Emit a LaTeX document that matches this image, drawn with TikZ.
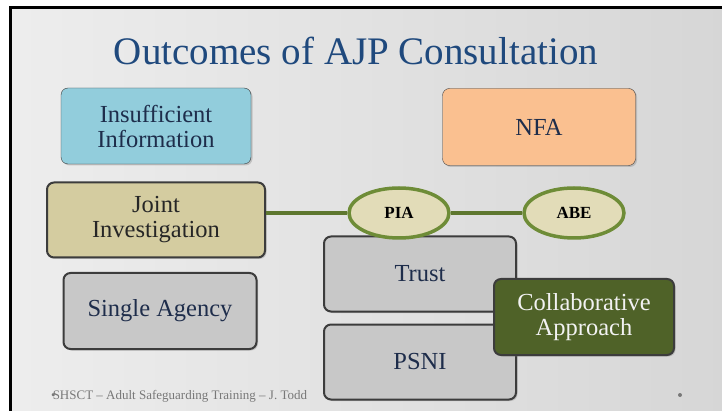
\documentclass[tikz,border=0pt]{standalone}
\usepackage{fontspec}
\setmainfont{Liberation Serif}
\usepackage{xcolor}
\usepackage{tikz}
\usetikzlibrary{positioning, shapes.geometric, shadows}
\definecolor{mytitle}{RGB}{31, 73, 125}
\definecolor{mynavy}{RGB}{30, 45, 75}
\definecolor{myblue}{RGB}{146, 205, 220}
\definecolor{myorange}{RGB}{250, 192, 144}
\definecolor{mytan}{RGB}{212, 204, 160}
\definecolor{mylighttan}{RGB}{226, 220, 184}
\definecolor{mygray}{RGB}{200, 200, 200}
\definecolor{myolive}{RGB}{110, 140, 55}
\definecolor{mygreen}{RGB}{79, 98, 40}
\definecolor{myedge}{RGB}{60, 60, 60}
\definecolor{myfoot}{RGB}{120, 120, 120}

\begin{document}
\begin{tikzpicture}[x=1pt, y=-1pt,
    outbox/.style={rectangle, rounded corners=7pt, draw=myedge, align=center, inner sep=0pt,
        text=mynavy, font=\fontsize{24.5}{25}\selectfont,
        drop shadow={opacity=0.35, shadow xshift=1.5pt, shadow yshift=-1.5pt}},
    heavybox/.style={outbox, line width=2pt},
    oval/.style={ellipse, draw=myolive, line width=3.5pt, fill=mylighttan, inner sep=0pt,
        minimum width=100pt, minimum height=50pt, font=\bfseries\fontsize{17}{19}\selectfont}]
    \useasboundingbox (0,0) rectangle (722,411);
    % background
    \fill[white] (0,0) rectangle (722,411);
    \shade[left color=gray!14, middle color=white, right color=gray!32] (10,8) rectangle (722,411);
    \draw[line width=3pt] (10,411) -- (10,8) -- (722,8);

    % title
    \node[text=mytitle, font=\fontsize{39}{44}\selectfont] (title) at (356,51) {Outcomes of AJP Consultation};

    % top row
    \node[outbox, fill=myblue, minimum width=190pt, minimum height=76pt] (ii) at (156,126) {Insufficient\\Information};
    \node[outbox, fill=myorange, minimum width=193pt, minimum height=77pt] (nfa) at (539,127) {NFA};

    % left column
    \node[heavybox, fill=mytan, text=black!85, minimum width=218pt, minimum height=75pt] (ji) at (156,220) {Joint\\Investigation};
    \node[heavybox, fill=mygray, minimum width=193pt, minimum height=76pt] (sa) at (160,311) {Single Agency};

    % right column
    \node[heavybox, fill=mygray, minimum width=192pt, minimum height=75pt] (tr) at (420,274) {Trust};
    \node[heavybox, fill=mygray, minimum width=192pt, minimum height=75pt] (ps) at (420,362) {PSNI};

    % PIA and ABE
    \node[oval] (pia) at (399,213) {PIA};
    \node[oval] (abe) at (574,213) {ABE};
    \draw[myolive!85!black, line width=4pt] (ji.east |- pia.west) -- (pia.west);
    \draw[myolive!85!black, line width=4pt] (pia.east) -- (abe.west);

    % collaborative
    \node[heavybox, fill=mygreen, text=white!95!black, minimum width=180pt, minimum height=76pt] (ca) at (584,317) {Collaborative\\Approach};

    % footer
    \node[anchor=west, text=myfoot, font=\fontsize{13}{15}\selectfont, inner sep=0pt] (foot) at (51,396) {\textbullet\kern-3pt SHSCT – Adult Safeguarding Training – J. Todd};
    \fill[myfoot] (680,395) circle (2pt);
\end{tikzpicture}
\end{document}
